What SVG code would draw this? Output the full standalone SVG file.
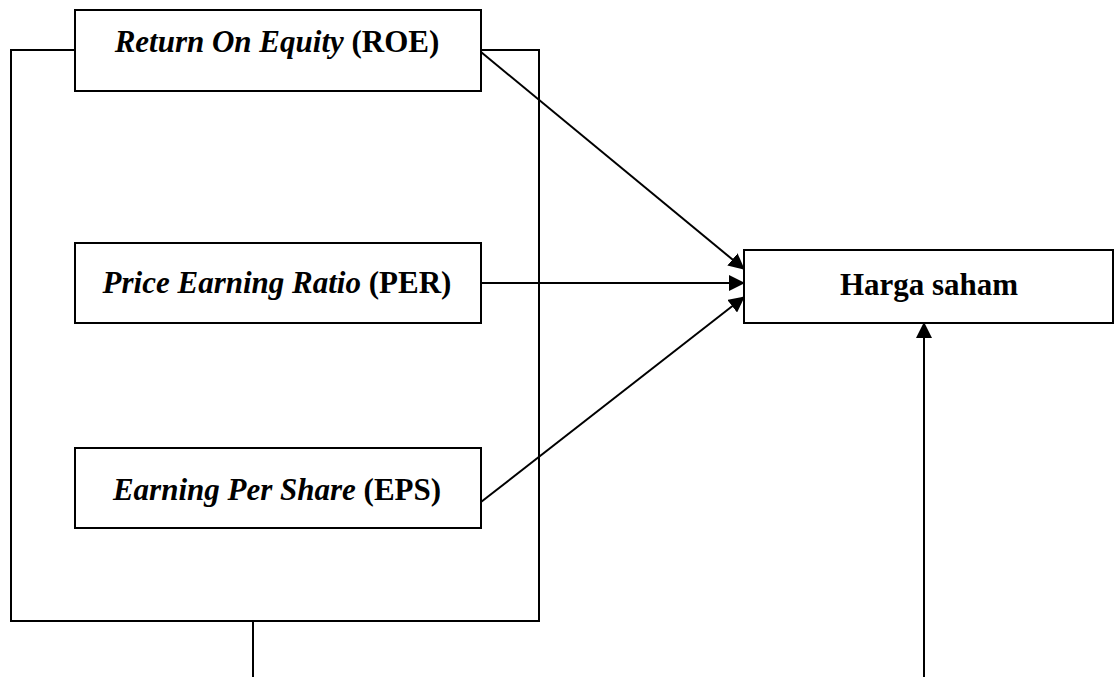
<svg xmlns="http://www.w3.org/2000/svg" width="1114" height="677" viewBox="0 0 1114 677">
<style>
.box{fill:#fff;stroke:#000;stroke-width:2}
.ln{fill:none;stroke:#000;stroke-width:2}
text{font-family:"Liberation Serif","Times New Roman",serif;font-size:31px;font-weight:bold;fill:#000}
.it{font-style:italic}
</style>
<defs>
<marker id="ah2" markerWidth="16" markerHeight="16" refX="15" refY="8" orient="auto" markerUnits="userSpaceOnUse" viewBox="0 0 16 16">
<path d="M0,0 L16,8 L0,16 z" fill="#000"/>
</marker>
</defs>
<g id="frame">
<rect class="box" x="11" y="50" width="528" height="571" fill="none"/>
</g>
<g id="roe">
<rect class="box" x="75" y="10" width="406" height="81"/>
<text x="277" y="52" text-anchor="middle"><tspan class="it">Return On Equity</tspan> (ROE)</text>
</g>
<g id="per">
<rect class="box" x="75" y="243" width="406" height="80"/>
<text x="277" y="293" text-anchor="middle"><tspan class="it">Price Earning Ratio</tspan> (PER)</text>
</g>
<g id="eps">
<rect class="box" x="75" y="448" width="406" height="80"/>
<text x="277" y="500" text-anchor="middle"><tspan class="it">Earning Per Share</tspan> (EPS)</text>
</g>
<g id="harga">
<rect class="box" x="744" y="250" width="369" height="73"/>
<text x="929" y="295" text-anchor="middle">Harga saham</text>
</g>
<g id="connectors">
<line class="ln" x1="481" y1="52" x2="744" y2="269" marker-end="url(#ah2)"/>
<line class="ln" x1="481" y1="283" x2="744" y2="283" marker-end="url(#ah2)"/>
<line class="ln" x1="481" y1="502" x2="744" y2="297" marker-end="url(#ah2)"/>
<line class="ln" x1="253" y1="621" x2="253" y2="677"/>
<line class="ln" x1="924" y1="677" x2="924" y2="323" marker-end="url(#ah2)"/>
</g>
</svg>
